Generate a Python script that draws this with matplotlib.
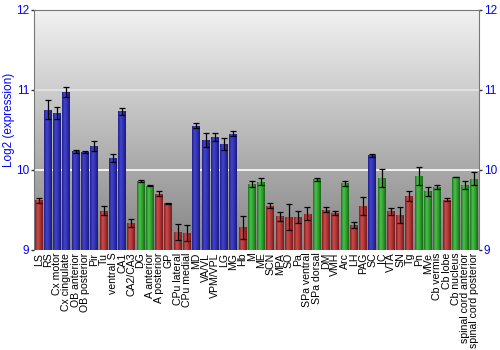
import matplotlib
matplotlib.use('Agg')
import matplotlib.pyplot as plt
import numpy as np
from matplotlib.colors import LinearSegmentedColormap

plt.rcParams['font.family'] = ['Liberation Sans', 'DejaVu Sans']

# Regions, mean log2 expression, error and colour group
regions = ['LS', 'RS', 'Cx motor', 'Cx cingulate', 'OB anterior', 'OB posterior', 'Pir', 'Tu',
           'ventral S', 'CA1', 'CA2/CA3', 'DG', 'A anterior', 'A posterior', 'GP', 'CPu lateral',
           'CPu medial', 'MD', 'VA/VL', 'VPM/VPL', 'LG', 'MG', 'Hb', 'M', 'ME', 'SCN', 'MPA', 'SO',
           'Pa', 'SPa ventral', 'SPa dorsal', 'DM', 'VMH', 'Arc', 'LH', 'PAG', 'SC', 'IC', 'VTA',
           'SN', 'Tg', 'Pn', 'MVe', 'Cb vermis', 'Cb lobe', 'Cb nucleus', 'spinal cord anterior',
           'spinal cord posterior']
values = [9.62, 10.75, 10.71, 10.97, 10.23, 10.22, 10.30, 9.49,
          10.15, 10.73, 9.33, 9.86, 9.80, 9.70, 9.58, 9.22,
          9.21, 10.55, 10.375, 10.41, 10.32, 10.45, 9.28, 9.82, 9.85, 9.55, 9.42, 9.41,
          9.41, 9.45, 9.88, 9.50, 9.46, 9.83, 9.31, 9.55, 10.18, 9.90, 9.48,
          9.43, 9.675, 9.92, 9.73, 9.79, 9.625, 9.91, 9.81,
          9.89]
errors = [0.03, 0.12, 0.08, 0.06, 0.02, 0.01, 0.06, 0.06,
          0.05, 0.04, 0.05, 0.01, 0.005, 0.03, 0.005, 0.10,
          0.10, 0.03, 0.09, 0.05, 0.075, 0.03, 0.14, 0.04, 0.045, 0.03, 0.055, 0.16,
          0.07, 0.08, 0.015, 0.03, 0.02, 0.035, 0.035, 0.11, 0.02, 0.11, 0.045,
          0.10, 0.06, 0.11, 0.06, 0.025, 0.02, 0.005, 0.045,
          0.08]
groups = ['r', 'b', 'b', 'b', 'b', 'b', 'b', 'r',
          'b', 'b', 'r', 'g', 'g', 'r', 'r', 'r',
          'r', 'b', 'b', 'b', 'b', 'b', 'r', 'g', 'g', 'r', 'r', 'r',
          'r', 'r', 'g', 'r', 'r', 'g', 'r', 'r', 'b', 'g', 'r',
          'r', 'r', 'g', 'g', 'g', 'r', 'g', 'g',
          'g']

palette = {
    'b': ['#202088', '#4444cc', '#3030b0', '#1a1a78'],
    'r': ['#802020', '#cc4c4c', '#aa3434', '#741c1c'],
    'g': ['#1e741e', '#4cc04c', '#2e9e2e', '#1a661a'],
}

fig = plt.figure(figsize=(5, 3.5), dpi=100)
ax = fig.add_axes([0.068, 0.286, 0.89, 0.686])

ymin, ymax = 9, 12
x = np.arange(len(regions))

# background gradient
bg = LinearSegmentedColormap.from_list('bg', ['#848484', '#f2f2f2'])
grad = np.linspace(0, 1, 256).reshape(-1, 1)
ax.imshow(grad, extent=(-0.5, len(regions) - 0.5, ymin, ymax), origin='lower',
          aspect='auto', cmap=bg, zorder=0)

for yy, c in [(10, 'white'), (11, '#e6e6e6'), (12, '#e6e6e6')]:
    ax.axhline(yy, color=c, lw=1.2, zorder=1)

width = 0.86
bars = ax.bar(x, np.array(values) - ymin, bottom=ymin, width=width, color='none',
              edgecolor='none', zorder=2)
for bar, g in zip(bars, groups):
    cm = LinearSegmentedColormap.from_list('c', palette[g])
    x0 = bar.get_x()
    h = bar.get_height()
    im = ax.imshow(np.linspace(0, 1, 64).reshape(1, -1), extent=(x0, x0 + width, ymin, ymin + h),
                   aspect='auto', cmap=cm, zorder=2)
    im.set_clip_path(bar)

ax.errorbar(x, values, yerr=errors, fmt='none', ecolor='black', elinewidth=0.9,
            capsize=2, capthick=0.9, zorder=3)

ax.set_xlim(-0.5, len(regions) - 0.5)
ax.set_ylim(ymin, ymax)
ax.set_xticks(x)
ax.set_xticklabels(regions, rotation=90, fontsize=7.6)
ax.tick_params(axis='x', length=0, pad=2)
ax.set_yticks([9, 10, 11, 12])
ax.tick_params(axis='y', colors='#333333', labelcolor='blue', labelsize=8.5, length=2.5,
               width=1, pad=1, right=True, labelright=True, direction='out')
ax.set_ylabel('Log2 (expression)', color='blue', fontsize=8.5)
ax.yaxis.set_label_coords(-0.042, 0.54)

for s in ax.spines.values():
    s.set_color('#777777')
ax.spines['bottom'].set_visible(False)

fig.savefig('out.png', dpi=100)
